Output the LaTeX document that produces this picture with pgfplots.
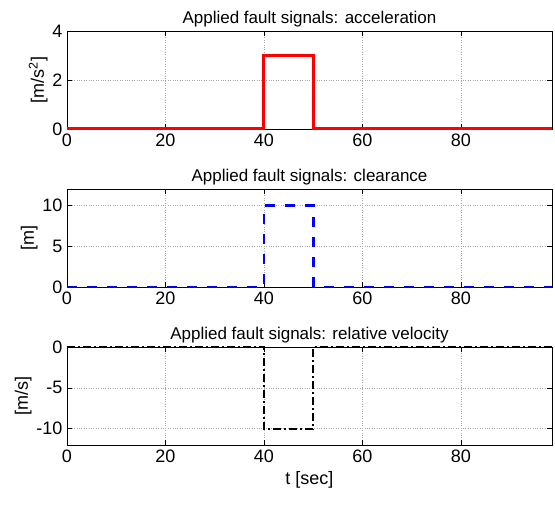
\documentclass[border=0pt]{standalone}
\usepackage{fontspec}
\setmainfont{Liberation Sans}
\usepackage{pgfplots}
\pgfplotsset{compat=1.18}
\begin{document}
\begin{tikzpicture}[x=1pt,y=1pt]
\pgfplotsset{
  every axis/.style={
    scale only axis, width=485pt, height=98pt,
    xmin=0, xmax=98.5, xtick={0,20,40,60,80},
    tick align=inside, major tick length=5pt,
    tick style={black, line width=0.6pt},
    axis line style={black, line width=0.6pt},
    grid=major, major grid style={gray!70, dotted, line width=0.6pt},
    /pgf/number format/assume math mode=true,
    ticklabel style={font=\fontsize{18}{20}\selectfont},
    label style={font=\fontsize{18}{20}\selectfont},
    title style={font=\fontsize{17}{19}\selectfont, yshift=-6pt},
    anchor=south west, clip=false, set layers,
    every axis plot/.append style={on layer=axis foreground},
    xticklabel style={yshift=-1pt},
    yticklabel style={xshift=-1pt},
    ylabel style={yshift=-2pt},
  }
}
\begin{axis}[at={(67pt,376pt)}, ymin=0, ymax=4, ytick={0,2,4},
  title={Applied fault signals: acceleration}, ylabel={[m/s\textsuperscript{2}]}]
\addplot[red, line width=3pt] coordinates {(0,0) (40,0) (40,3) (50,3) (50,0) (98.5,0)};
\end{axis}
\begin{axis}[at={(67pt,218pt)}, ymin=0, ymax=12, ytick={0,5,10},
  title={Applied fault signals: clearance}, ylabel={[m]}]
\addplot[blue, line width=2.8pt, dash pattern=on 10pt off 10pt] coordinates {(0,0) (40,0) (40,10) (50,10) (50,0) (98.5,0)};
\end{axis}
\begin{axis}[at={(67pt,60pt)}, ymin=-12, ymax=0, ytick={-10,-5,0},
  title={Applied fault signals: relative velocity}, ylabel={[m/s]}, xlabel={t [sec]},
  xlabel style={yshift=-2pt}]
\addplot[black, line width=2.2pt, dash pattern=on 8pt off 3pt on 2pt off 3pt] coordinates {(0,0) (40,0) (40,-10) (50,-10) (50,0) (98.5,0)};
\end{axis}
\path (0,0) (555,505);
\end{tikzpicture}
\end{document}
